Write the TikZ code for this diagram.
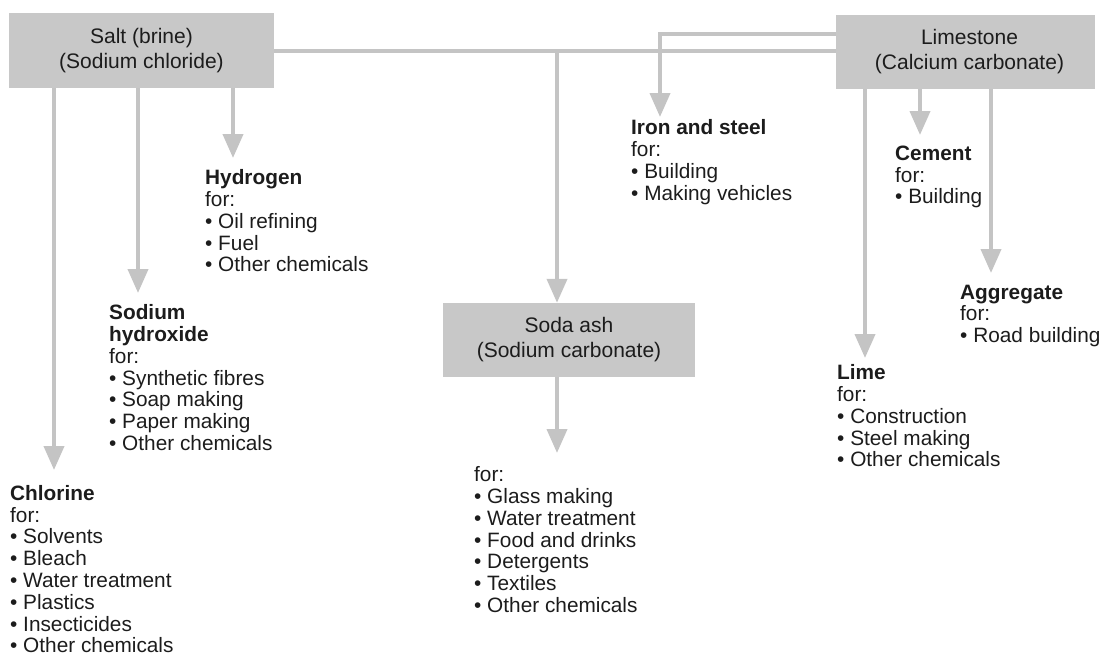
\documentclass[tikz,border=0pt]{standalone}
\usepackage{fontspec}
\setmainfont{Liberation Sans}
\usetikzlibrary{arrows.meta}
\definecolor{boxgray}{RGB}{200,200,200}
\definecolor{linegray}{RGB}{196,196,196}
\definecolor{ink}{RGB}{28,28,28}
\tikzset{
  srcbox/.style={fill=boxgray, draw=none, inner sep=0pt, align=center, text=ink,
    font=\fontsize{21}{25}\selectfont},
  conn/.style={draw=linegray, line width=4pt},
  arr/.style={conn, -{Triangle[width=20pt,length=24pt]}},
  lbl/.style={anchor=north west, inner sep=0pt, align=left, text=ink,
    font=\fontsize{20.8}{21.8}\selectfont},
}
\begin{document}
\begin{tikzpicture}[x=1pt,y=-1pt]
\useasboundingbox (0,0) rectangle (1102,657);
% source boxes
\node[srcbox, minimum width=265pt, minimum height=75pt] (salt) at (141.5,50.5) {Salt (brine)\\(Sodium chloride)};
\node[srcbox, minimum width=259pt, minimum height=74pt] (lime) at (965.5,52) {\hspace*{8pt}Limestone\\\hspace*{8pt}(Calcium carbonate)};
\node[srcbox, minimum width=252pt, minimum height=74pt] (soda) at (569,340) {Soda ash\\(Sodium carbonate)};
% labels
\node[lbl] (chlorine) at (10,485) {\textbf{Chlorine}\\for:\\• Solvents\\• Bleach\\• Water treatment\\• Plastics\\• Insecticides\\• Other chemicals};
\node[lbl] (naoh) at (109,304.5) {\textbf{Sodium}\\\textbf{hydroxide}\\for:\\• Synthetic fibres\\• Soap making\\• Paper making\\• Other chemicals};
\node[lbl] (hydrogen) at (205,169.5) {\textbf{Hydrogen}\\for:\\• Oil refining\\• Fuel\\• Other chemicals};
\node[lbl] (iron) at (631,119.5) {\textbf{Iron and steel}\\for:\\• Building\\• Making vehicles};
\node[lbl] (cement) at (895,145.5) {\textbf{Cement}\\for:\\• Building};
\node[lbl] (aggregate) at (960,284.5) {\textbf{Aggregate}\\for:\\• Road building};
\node[lbl] (limeuse) at (837,364.5) {\textbf{Lime}\\for:\\• Construction\\• Steel making\\• Other chemicals};
\node[lbl] (sodause) at (474,466.5) {for:\\• Glass making\\• Water treatment\\• Food and drinks\\• Detergents\\• Textiles\\• Other chemicals};
% arrow tips / junctions
\coordinate (clT) at (54,470);
\coordinate (naT) at (138,293);
\coordinate (hyT) at (233,158);
\coordinate (irT) at (660,117);
\coordinate (ceT) at (920,135);
\coordinate (agT) at (991,273);
\coordinate (liT) at (865,358);
\coordinate (soT) at (557,453);
\coordinate (jn) at (557,50.5);
% connectors
\draw[conn] (salt.east) -- (salt.east -| lime.west);
\draw[arr] (jn) -- (jn |- soda.north);
\draw[arr] ([yshift=18pt]lime.west) -| (irT);
\draw[arr] (salt.south -| clT) -- (clT);
\draw[arr] (salt.south -| naT) -- (naT);
\draw[arr] (salt.south -| hyT) -- (hyT);
\draw[arr] (lime.south -| liT) -- (liT);
\draw[arr] (lime.south -| ceT) -- (ceT);
\draw[arr] (lime.south -| agT) -- (agT);
\draw[arr] (soda.south -| soT) -- (soT);
\end{tikzpicture}
\end{document}
